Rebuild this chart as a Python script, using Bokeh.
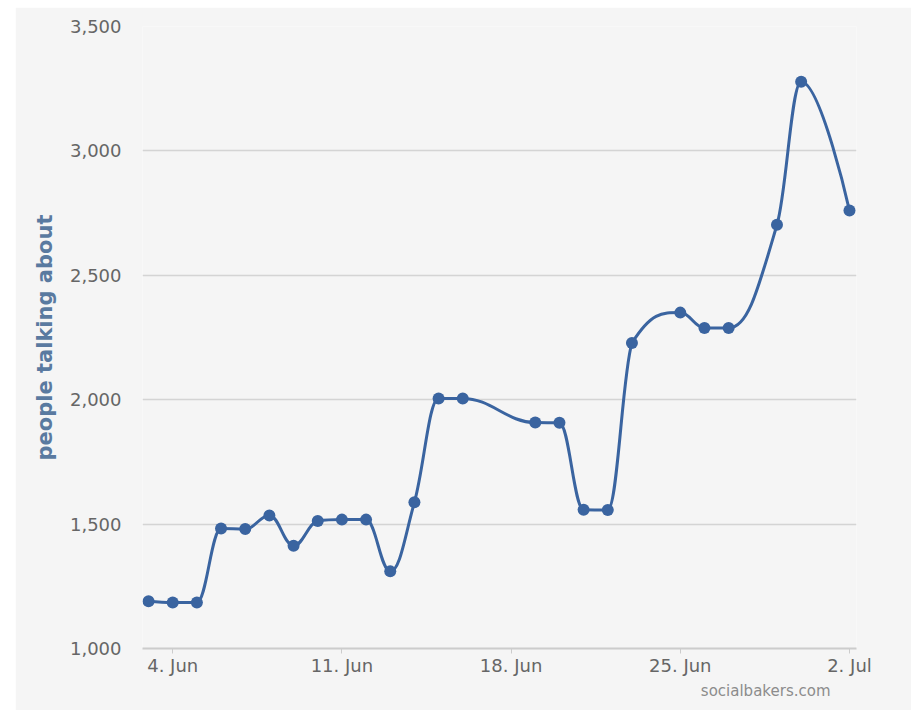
import numpy as np
import pandas as pd
from bokeh.plotting import figure
from bokeh.models import Range1d, FixedTicker, Title, NumeralTickFormatter
from bokeh.embed import file_html
from bokeh.resources import INLINE

# ---- data ----
dates = ["2012-06-03", "2012-06-04", "2012-06-05", "2012-06-06", "2012-06-07",
         "2012-06-08", "2012-06-09", "2012-06-10", "2012-06-11", "2012-06-12",
         "2012-06-13", "2012-06-14", "2012-06-15", "2012-06-16", "2012-06-19",
         "2012-06-20", "2012-06-21", "2012-06-22", "2012-06-23", "2012-06-25",
         "2012-06-26", "2012-06-27", "2012-06-29", "2012-06-30", "2012-07-02"]
values = [1190, 1185, 1185, 1482, 1480,
          1535, 1413, 1512, 1518, 1518,
          1310, 1588, 2005, 2005, 1908,
          1907, 1558, 1557, 2228, 2350,
          2288, 2288, 2703, 3278, 2760]
tick_dates = ["2012-06-04", "2012-06-11", "2012-06-18", "2012-06-25", "2012-07-02"]
tick_labels = ["4. Jun", "11. Jun", "18. Jun", "25. Jun", "2. Jul"]
y_ticks = [1000, 1500, 2000, 2500, 3000, 3500]

DAY = 86400000.0
xs = np.array([pd.Timestamp(d).value / 1e6 for d in dates])
ys = np.array(values, dtype=float)
tx = [pd.Timestamp(d).value / 1e6 for d in tick_dates]

# ---- Highcharts-style spline control points ----
def spline_controls(x, y, smoothing=1.5):
    n = len(x)
    denom = smoothing + 1
    lcx, lcy = x.copy(), y.copy()
    rcx, rcy = x.copy(), y.copy()
    for i in range(1, n - 1):
        px, py = x[i], y[i]
        lx, ly = x[i - 1], y[i - 1]
        nx, ny = x[i + 1], y[i + 1]
        lX = (smoothing * px + lx) / denom
        lY = (smoothing * py + ly) / denom
        rX = (smoothing * px + nx) / denom
        rY = (smoothing * py + ny) / denom
        corr = 0.0
        if rX != lX:
            corr = ((rY - lY) * (rX - px)) / (rX - lX) + py - rY
        lY += corr
        rY += corr
        if lY > ly and lY > py:
            lY = max(ly, py); rY = 2 * py - lY
        elif lY < ly and lY < py:
            lY = min(ly, py); rY = 2 * py - lY
        if rY > ny and rY > py:
            rY = max(ny, py); lY = 2 * py - rY
        elif rY < ny and rY < py:
            rY = min(ny, py); lY = 2 * py - rY
        lcx[i], lcy[i], rcx[i], rcy[i] = lX, lY, rX, rY
    return lcx, lcy, rcx, rcy

xd = (xs - xs[0]) / DAY
lcx, lcy, rcx, rcy = spline_controls(xd, ys)
lcx = lcx * DAY + xs[0]
rcx = rcx * DAY + xs[0]

p = figure(width=896, height=703, output_backend="svg", toolbar_location=None,
           x_axis_type="datetime",
           x_range=Range1d(xs[0] - 0.25 * DAY, xs[-1] + 0.29 * DAY),
           y_range=Range1d(1000, 3500),
           min_border_left=127, min_border_right=55, min_border_top=19, min_border_bottom=62,
           background_fill_color="#f5f5f5", border_fill_color="#f5f5f5",
           outline_line_color=None, margin=(7, 0, 0, 15))

p.bezier(x0=xs[:-1], y0=ys[:-1], x1=xs[1:], y1=ys[1:],
         cx0=rcx[:-1], cy0=rcy[:-1], cx1=lcx[1:], cy1=lcy[1:],
         line_color="#3a64a0", line_width=3, line_cap="round")
p.scatter(xs, ys, size=12, fill_color="#3a64a0", line_color="#3a64a0", line_width=0)

# axes
p.xgrid.visible = False
p.ygrid.grid_line_color = "#d4d4d4"
p.ygrid.grid_line_width = 1.5
p.yaxis.ticker = FixedTicker(ticks=y_ticks)
p.yaxis.formatter = NumeralTickFormatter(format="0,0")
p.yaxis.axis_line_color = None
p.yaxis.major_tick_line_color = None
p.yaxis.minor_tick_line_color = None
p.yaxis.major_label_standoff = 15
p.yaxis.major_label_text_font = "DejaVu Sans"
p.yaxis.major_label_text_font_size = "18px"
p.yaxis.major_label_text_color = "#666666"
p.yaxis.axis_label = "people talking about"
p.yaxis.axis_label_text_font = "DejaVu Sans"
p.yaxis.axis_label_text_font_style = "bold"
p.yaxis.axis_label_text_font_size = "21px"
p.yaxis.axis_label_text_color = "#5a7aa0"
p.yaxis.axis_label_standoff = 10

p.xaxis.ticker = FixedTicker(ticks=tx)
p.xaxis.major_label_overrides = {t: l for t, l in zip(tx, tick_labels)}
p.xaxis.axis_line_color = "#cccccc"
p.xaxis.axis_line_width = 2
p.xaxis.major_tick_line_color = "#cccccc"
p.xaxis.major_tick_in = 0
p.xaxis.major_tick_out = 5
p.xaxis.minor_tick_line_color = None
p.xaxis.major_label_standoff = 1
p.xaxis.major_label_text_font = "DejaVu Sans"
p.xaxis.major_label_text_font_size = "18px"
p.xaxis.major_label_text_color = "#666666"

credit = Title(text="socialbakers.com", align="right", offset=26, standoff=2,
               text_font="DejaVu Sans", text_font_size="15px",
               text_font_style="normal", text_color="#8c8c8c")
p.add_layout(credit, "below")

open("out.html", "w").write(file_html(p, INLINE))
